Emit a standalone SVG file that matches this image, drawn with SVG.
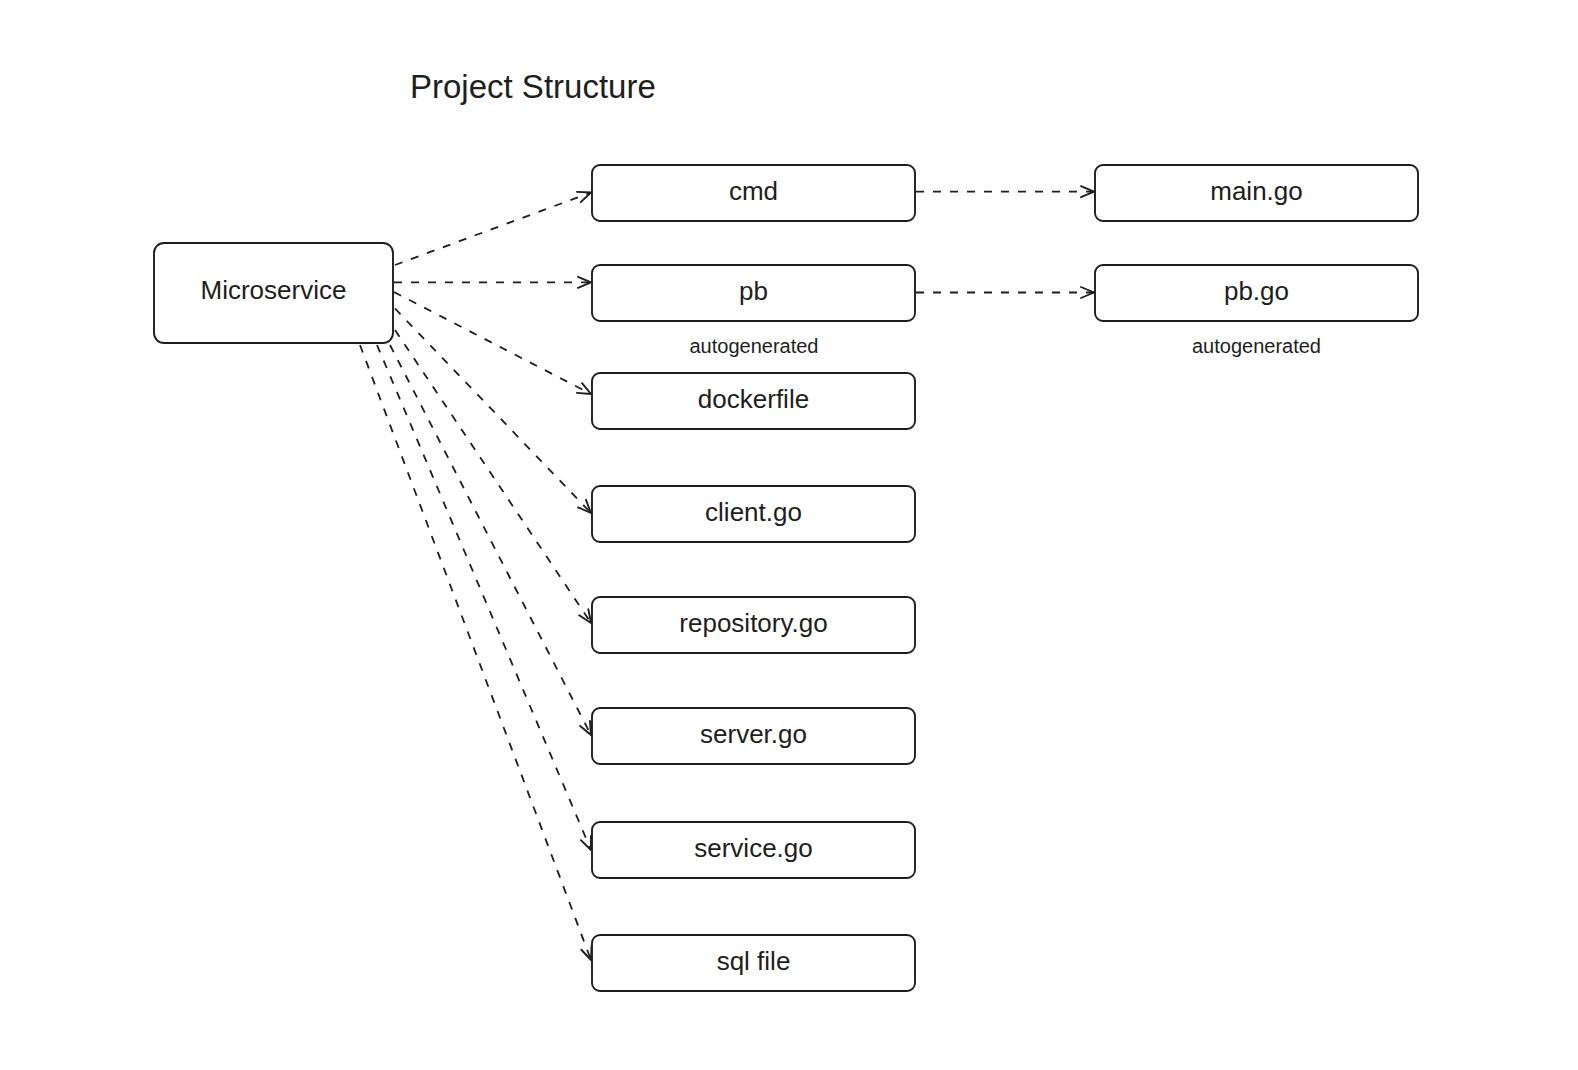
<svg xmlns="http://www.w3.org/2000/svg" width="1578" height="1070" viewBox="0 0 1578 1070">
<style>
.box{fill:#ffffff;stroke:#1e1e1e;stroke-width:1.9}
.lbl{font-family:"Liberation Sans",Arial,Helvetica,sans-serif;font-size:26px;fill:#1e1e1e;text-anchor:middle}
.note{font-family:"Liberation Sans",Arial,Helvetica,sans-serif;font-size:20px;fill:#1e1e1e;text-anchor:middle}
.title{font-family:"Liberation Sans",Arial,Helvetica,sans-serif;font-size:33px;fill:#1e1e1e}
.edge{fill:none;stroke:#1e1e1e;stroke-width:1.8;stroke-dasharray:8 9;marker-end:url(#arr)}
</style>
<defs>
<marker id="arr" markerUnits="userSpaceOnUse" markerWidth="20" markerHeight="20" refX="0" refY="0" viewBox="-15 -10 20 20" orient="auto" overflow="visible">
<path d="M -13 -5.5 L 0 0 L -13 5.5" fill="none" stroke="#1e1e1e" stroke-width="1.9" stroke-linecap="round" stroke-linejoin="round"/>
</marker>
</defs>
<rect width="1578" height="1070" fill="#ffffff"/>
<text class="title" x="410" y="98">Project Structure</text>
<g id="connectors">
<line class="edge" x1="395" y1="265" x2="591" y2="192.5"/>
<line class="edge" x1="394" y1="282.3" x2="591" y2="282.3"/>
<line class="edge" x1="394" y1="292" x2="591" y2="394"/>
<line class="edge" x1="395" y1="308.5" x2="591" y2="513"/>
<line class="edge" x1="395" y1="330" x2="591" y2="623"/>
<line class="edge" x1="390" y1="345" x2="591" y2="735"/>
<line class="edge" x1="377" y1="345" x2="591" y2="850"/>
<line class="edge" x1="360" y1="345" x2="591" y2="960"/>
<line class="edge" x1="916" y1="191.7" x2="1094" y2="191.7"/>
<line class="edge" x1="916" y1="292.5" x2="1094" y2="292.5"/>
</g>
<g id="microservice"><rect class="box" x="154" y="243" width="239" height="100" rx="10"/><text class="lbl" x="273.5" y="299.3">Microservice</text></g>
<g id="cmd"><rect class="box" x="592" y="165" width="323" height="56" rx="8"/><text class="lbl" x="753.5" y="200">cmd</text></g>
<g id="pb"><rect class="box" x="592" y="265" width="323" height="56" rx="8"/><text class="lbl" x="753.5" y="300">pb</text><text class="note" x="754" y="352.5">autogenerated</text></g>
<g id="dockerfile"><rect class="box" x="592" y="373" width="323" height="56" rx="8"/><text class="lbl" x="753.5" y="408">dockerfile</text></g>
<g id="client"><rect class="box" x="592" y="486" width="323" height="56" rx="8"/><text class="lbl" x="753.5" y="521">client.go</text></g>
<g id="repository"><rect class="box" x="592" y="597" width="323" height="56" rx="8"/><text class="lbl" x="753.5" y="632">repository.go</text></g>
<g id="server"><rect class="box" x="592" y="708" width="323" height="56" rx="8"/><text class="lbl" x="753.5" y="743">server.go</text></g>
<g id="service"><rect class="box" x="592" y="822" width="323" height="56" rx="8"/><text class="lbl" x="753.5" y="857">service.go</text></g>
<g id="sqlfile"><rect class="box" x="592" y="935" width="323" height="56" rx="8"/><text class="lbl" x="753.5" y="970">sql file</text></g>
<g id="maingo"><rect class="box" x="1095" y="165" width="323" height="56" rx="8"/><text class="lbl" x="1256.5" y="200">main.go</text></g>
<g id="pbgo"><rect class="box" x="1095" y="265" width="323" height="56" rx="8"/><text class="lbl" x="1256.5" y="300">pb.go</text><text class="note" x="1256.5" y="352.5">autogenerated</text></g>
</svg>
